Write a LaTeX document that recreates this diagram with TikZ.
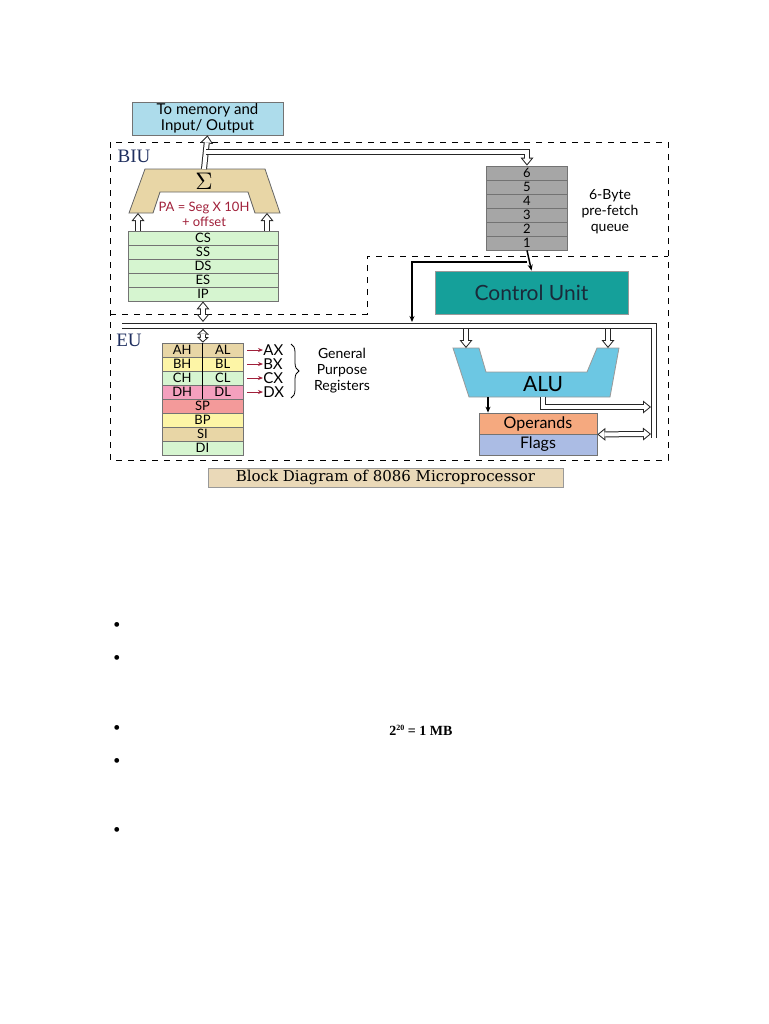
\documentclass[tikz,border=0pt]{standalone}
\usepackage{fontspec}
\setmainfont{Liberation Serif}
\newfontfamily\gill{Lato}
\newfontfamily\bookman{DejaVu Serif}
\usetikzlibrary{arrows.meta,positioning,decorations.pathreplacing}
\definecolor{memblue}{HTML}{ADDCEB}
\definecolor{tanfill}{HTML}{E8D6A6}
\definecolor{seggreen}{HTML}{D6F5D0}
\definecolor{qgray}{HTML}{A6A6A6}
\definecolor{cuteal}{HTML}{15A09A}
\definecolor{cutext}{HTML}{1A2A3A}
\definecolor{alublue}{HTML}{6CC7E3}
\definecolor{opsorange}{HTML}{F5A97F}
\definecolor{flagblue}{HTML}{ABBCE4}
\definecolor{regyellow}{HTML}{FDF5A6}
\definecolor{regpink}{HTML}{F4A0BE}
\definecolor{regred}{HTML}{F39A9A}
\definecolor{parred}{HTML}{A0203A}
\definecolor{unitnavy}{HTML}{1F2F5F}
\definecolor{capfill}{HTML}{EAD9B8}
\tikzstyle{reg}=[draw=black!55, line width=0.4pt, minimum height=7pt, inner sep=0pt, font=\gill\fontsize{6.5}{7}\selectfont]
\tikzstyle{segreg}=[reg, fill=seggreen, minimum width=75pt]
\tikzstyle{qreg}=[reg, fill=qgray, minimum width=40.5pt]
\tikzstyle{gpfull}=[reg, minimum width=40.5pt]
\tikzstyle{gphalf}=[reg, minimum width=20.25pt]
\tikzstyle{bus}=[draw=black!85, line width=0.5pt, double=white, double distance=2pt]
\tikzstyle{hollow}=[draw=black!85, line width=3pt, -{Triangle[width=6.5pt,length=4pt,line width=0pt]},
  postaction={draw=white, line width=2pt, -{Triangle[width=4.4pt,length=2.7pt,line width=0pt]}, shorten >=0.8pt}]
\tikzstyle{hollowboth}=[draw=black!85, line width=3pt, {Triangle[width=6.5pt,length=4pt,line width=0pt]}-{Triangle[width=6.5pt,length=4pt,line width=0pt]},
  postaction={draw=white, line width=2pt, {Triangle[width=4.4pt,length=2.7pt,line width=0pt]}-{Triangle[width=4.4pt,length=2.7pt,line width=0pt]}, shorten >=0.8pt, shorten <=0.8pt}]
\tikzstyle{hollowshort}=[draw=black!85, line width=3pt, {Triangle[width=6pt,length=2.8pt,line width=0pt]}-{Triangle[width=6pt,length=2.8pt,line width=0pt]},
  postaction={draw=white, line width=2pt, {Triangle[width=3.5pt,length=1.6pt,line width=0pt]}-{Triangle[width=3.5pt,length=1.6pt,line width=0pt]}, shorten >=0.7pt, shorten <=0.7pt}]
\tikzstyle{thinarrow}=[line width=0.75pt, -{Stealth[length=3pt,width=2.5pt]}]
\tikzstyle{redarrow}=[draw=parred, line width=0.5pt, -{Stealth[length=2.5pt,width=2pt]}]
\tikzstyle{label}=[font=\gill\fontsize{7}{8}\selectfont, align=center, inner sep=0pt]
\tikzstyle{unit}=[font=\fontsize{9.5}{10}\selectfont, text=unitnavy, inner sep=0pt]
\tikzstyle{bullet}=[font=\fontsize{10}{10}\selectfont, inner sep=0pt]

\begin{document}
\begin{tikzpicture}[x=0.5pt,y=-0.5pt]
\useasboundingbox (0,0) rectangle (768,1024);
% BIU and EU frames
\draw[dashed, line width=0.5pt] (110,142) rectangle (668,460);
\draw[dashed, line width=0.5pt] (110,314) -- (367,314) -- (367,256) -- (668,256);
\node[unit] (biu) at (134,156) {BIU};
\node[unit] (eu) at (129,340) {EU};

\node[label, draw=black!55, fill=memblue, minimum width=75.5pt, minimum height=16.5pt, font=\gill\fontsize{7.5}{8}\selectfont] (mem) at (207.5,118.5) {To memory and\\Input/ Output};

% adder
\coordinate (addtop) at (204,169);
\coordinate (adl) at (138,213);
\coordinate (adr) at (267,213);
\filldraw[fill=tanfill, draw=black!60, line width=0.4pt] (145,169) -- (265,169) -- (280,213) -- (255,213) -- (248,192) -- (160,192) -- (153,213) -- (129,213) -- cycle;
\node[scale=1.2] (sigma) at (204,181) {$\Sigma$};
\node[label, text=parred, font=\gill\fontsize{6.5}{7.5}\selectfont] (pa) at (204,214) {PA = Seg X 10H\\+ offset};

% segment registers
\node[segreg] (cs) at (203,238) {CS};
\node[segreg] (ss) at (203,252) {SS};
\node[segreg] (ds) at (203,266) {DS};
\node[segreg] (es) at (203,280) {ES};
\node[segreg] (ip) at (203,294) {IP};

% queue
\node[qreg] (q6) at (527,173) {6};
\node[qreg] (q5) at (527,187) {5};
\node[qreg] (q4) at (527,201) {4};
\node[qreg] (q3) at (527,215) {3};
\node[qreg] (q2) at (527,229) {2};
\node[qreg] (q1) at (527,243) {1};
\node[label] (qtext) at (610,212) {6-Byte\\pre-fetch\\queue};

\node[draw=black!40, fill=cuteal, text=cutext, minimum width=96.5pt, minimum height=21.5pt, font=\gill\fontsize{10.5}{11}\selectfont] (cu) at (531.5,292.5) {Control Unit};

% ALU
\filldraw[fill=alublue, draw=black!40, line width=0.4pt] (453,348) -- (479,348) -- (486,372) -- (587,372) -- (597,348) -- (619,348) -- (610,397) -- (469,397) -- cycle;
\node[font=\gill\fontsize{10.5}{11}\selectfont] (alu) at (543,384) {ALU};
\node[reg, fill=opsorange, minimum width=59pt, minimum height=10.5pt, font=\gill\fontsize{8}{9}\selectfont] (ops) at (538,423.5) {Operands};
\node[reg, fill=flagblue, minimum width=59pt, minimum height=10.5pt, font=\gill\fontsize{8}{9}\selectfont] (flags) at (538,444.5) {Flags};

% general purpose registers
\node[gphalf, fill=tanfill] (ah) at (182.25,350) {AH};
\node[gphalf, fill=tanfill] (al) at (222.75,350) {AL};
\node[gphalf, fill=regyellow] (bh) at (182.25,364) {BH};
\node[gphalf, fill=regyellow] (bl) at (222.75,364) {BL};
\node[gphalf, fill=seggreen] (ch) at (182.25,378) {CH};
\node[gphalf, fill=seggreen] (cl) at (222.75,378) {CL};
\node[gphalf, fill=regpink] (dh) at (182.25,392) {DH};
\node[gphalf, fill=regpink] (dl) at (222.75,392) {DL};
\node[gpfull, fill=regred] (sp) at (202.5,406) {SP};
\node[gpfull, fill=regyellow] (bp) at (202.5,420) {BP};
\node[gpfull, fill=tanfill] (si) at (202.5,434) {SI};
\node[gpfull, fill=seggreen] (di) at (202.5,448) {DI};
\node[label, anchor=west, font=\gill\fontsize{7.5}{8}\selectfont] (ax) at (263,350) {AX};
\node[label, anchor=west, font=\gill\fontsize{7.5}{8}\selectfont] (bx) at (263,364) {BX};
\node[label, anchor=west, font=\gill\fontsize{7.5}{8}\selectfont] (cx) at (263,378) {CX};
\node[label, anchor=west, font=\gill\fontsize{7.5}{8}\selectfont] (dx) at (263,392) {DX};
\draw[redarrow] ([xshift=2pt]al.east) -- (ax.west);
\draw[redarrow] ([xshift=2pt]bl.east) -- (bx.west);
\draw[redarrow] ([xshift=2pt]cl.east) -- (cx.west);
\draw[redarrow] ([xshift=2pt]dl.east) -- (dx.west);
\draw[decorate, decoration={brace, amplitude=4pt}, line width=0.4pt] (291,344) -- (291,398);
\node[label] (gpr) at (342,371) {General\\Purpose\\Registers};

% buses
\coordinate (fork) at (206,152);
\coordinate (busw) at (122,325.5);
\coordinate (buse) at (654,325.5);
\coordinate (busend) at (654,438);
\coordinate (tap) at (527,262);
\coordinate (drop) at (412,262);
\draw[bus] (busw) -- (buse) -- (busend);
\draw[hollow] (addtop) -- (mem.south);
\draw[hollow] (fork) -| (q6.north);
\draw[hollow] (cs.north -| adl) -- (adl);
\draw[hollow] (cs.north -| adr) -- (adr);
\draw[hollowboth] (ip.south) -- (203,322);
\draw[hollowshort] (203,329) -- (ah.north east);
\draw[line width=0.4pt] (al.north west) -- (dl.south west);
\draw[thinarrow] (q1.south) -- (cu.north);
\draw[thinarrow] (tap) -- (drop) -- (412,322);
\draw[hollow] (466,329) -- (466,348);
\draw[hollow] (608,329) -- (608,348);
\draw[thinarrow] (488,397) -- (ops.north -| 488,0);
\draw[hollow] (543,397) |- (651,407);
\draw[hollowboth] (ops.south east) -- (651,434);

\node[draw=black!40, fill=capfill, minimum width=177.5pt, minimum height=9.5pt, inner sep=0pt, font=\bookman\fontsize{7.5}{8}\selectfont] (caption) at (385.5,477.5) {Block Diagram of 8086 Microprocessor};

% bullets
\node[bullet] (b1) at (117,627) {\textbullet};
\node[bullet] (b2) at (117,660) {\textbullet};
\node[bullet] (b3) at (117,730) {\textbullet};
\node[bullet] (b4) at (117,763) {\textbullet};
\node[bullet] (b5) at (117,832) {\textbullet};
\node[inner sep=0pt, font=\bfseries\fontsize{7}{8}\selectfont] (mb) at (421,730) {2\raisebox{2.4pt}{\fontsize{4}{4}\selectfont 20} = 1 MB};
\end{tikzpicture}
\end{document}
